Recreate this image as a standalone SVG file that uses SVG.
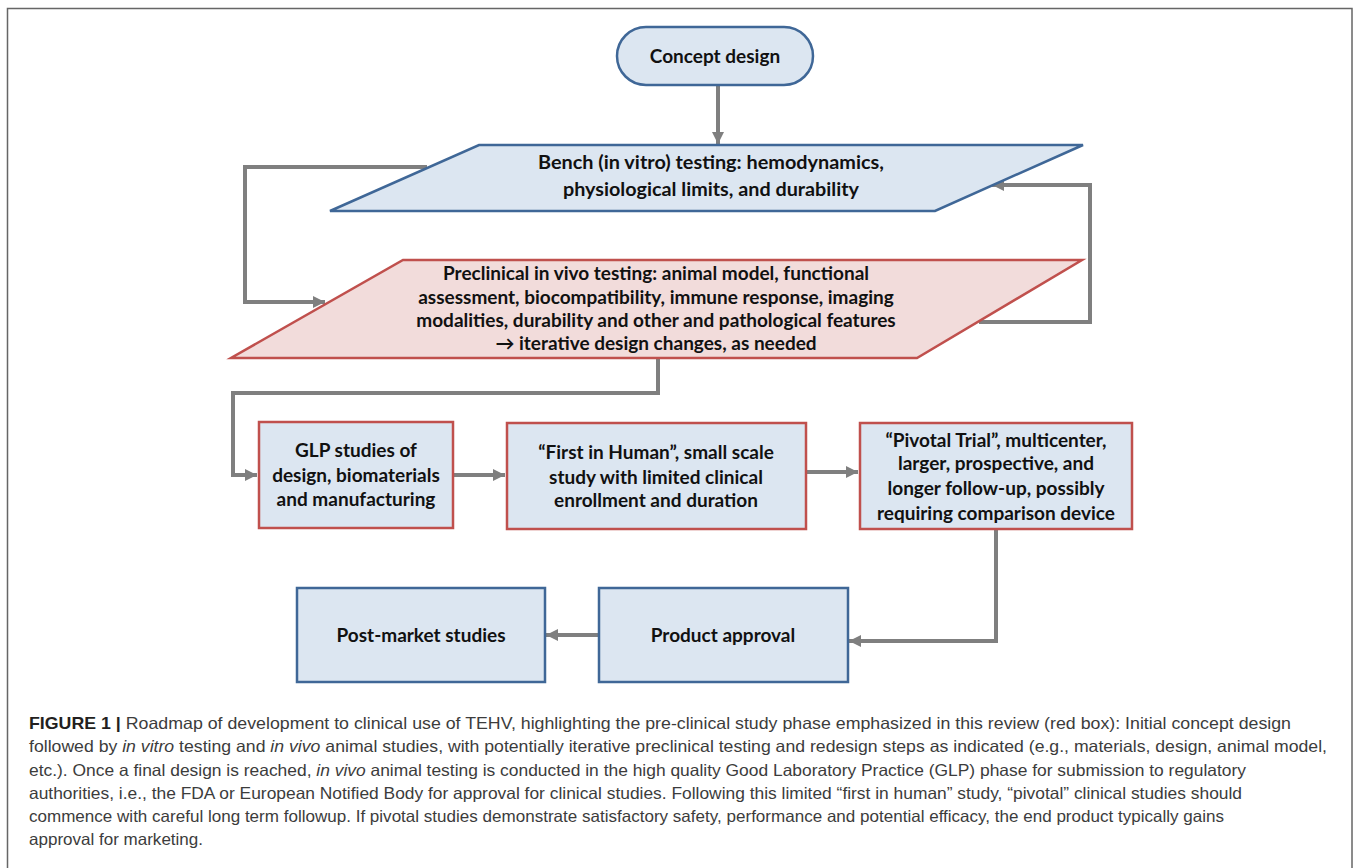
<svg xmlns="http://www.w3.org/2000/svg" width="1360" height="868" viewBox="0 0 1360 868">
<defs>
<marker id="arr" markerUnits="userSpaceOnUse" markerWidth="14" markerHeight="14" refX="12" refY="6" orient="auto">
<path d="M0,0 L12,6 L0,12 z" fill="#7f7f7f"/>
</marker>
<style>
.blue{fill:#dce6f1;stroke:#3f6797;stroke-width:2.5}
.red{fill:#dce6f1;stroke:#c0504d;stroke-width:2.5}
.pink{fill:#f2dcdb;stroke:#c0504d;stroke-width:2.5}
.t{font-family:Lato,"Liberation Sans",sans-serif;font-weight:bold;font-size:19px;fill:#111;text-anchor:middle}
.c{fill:none;stroke:#7f7f7f;stroke-width:4}
.cap{font-family:"Liberation Sans",Arial,sans-serif;font-size:16.5px;fill:#3c3c3c}
.capb{font-weight:bold;fill:#231f20}
</style>
</defs>
<rect width="1360" height="868" fill="#fff"/>
<rect x="7.5" y="8.5" width="1344.5" height="880" fill="none" stroke="#666" stroke-width="1.5"/>

<g id="connectors">
<path class="c" d="M718,86 V144" marker-end="url(#arr)"/>
<path class="c" d="M427,167 H245 V302 H325" marker-end="url(#arr)"/>
<path class="c" d="M979,322 H1090 V185 H992" marker-end="url(#arr)"/>
<path class="c" d="M658,359 V393 H233 V475 H257" marker-end="url(#arr)"/>
<path class="c" d="M454,475 H505" marker-end="url(#arr)"/>
<path class="c" d="M807,472 H858" marker-end="url(#arr)"/>
<path class="c" d="M996,530 V641 H849" marker-end="url(#arr)"/>
<path class="c" d="M598,635 H546" marker-end="url(#arr)"/>
</g>

<g id="concept">
<rect class="blue" x="617" y="27" width="196" height="58" rx="29"/>
<text class="t" x="715" y="63">Concept design</text>
</g>

<g id="bench">
<polygon class="blue" points="479,145 1083,145 935,211 330,211"/>
<text class="t" x="711" y="169" textLength="346" lengthAdjust="spacingAndGlyphs">Bench (in vitro) testing: hemodynamics,</text>
<text class="t" x="711" y="196" textLength="296" lengthAdjust="spacingAndGlyphs">physiological limits, and durability</text>
</g>

<g id="preclinical">
<polygon class="pink" points="403,260 1082,260 917,358 231,358"/>
<text class="t" x="656" y="280">Preclinical in vivo testing: animal model, functional</text>
<text class="t" x="656" y="304">assessment, biocompatibility, immune response, imaging</text>
<text class="t" x="656" y="327">modalities, durability and other and pathological features</text>
<text class="t" x="656" y="350">→ iterative design changes, as needed</text>
</g>

<g id="glp">
<rect class="red" x="259" y="422" width="194" height="106"/>
<text class="t" x="356" y="457">GLP studies of</text>
<text class="t" x="356" y="482">design, biomaterials</text>
<text class="t" x="356" y="506">and manufacturing</text>
</g>

<g id="fih">
<rect class="red" x="507" y="423" width="299" height="106"/>
<text class="t" x="656" y="459">“First in Human”, small scale</text>
<text class="t" x="656" y="484">study with limited clinical</text>
<text class="t" x="656" y="507">enrollment and duration</text>
</g>

<g id="pivotal">
<rect class="red" x="860" y="423" width="272" height="106"/>
<text class="t" x="996" y="447">“Pivotal Trial”, multicenter,</text>
<text class="t" x="996" y="470">larger, prospective, and</text>
<text class="t" x="996" y="495">longer follow-up, possibly</text>
<text class="t" x="996" y="520">requiring comparison device</text>
</g>

<g id="approval">
<rect class="blue" x="599" y="588" width="249" height="94"/>
<text class="t" x="723" y="642">Product approval</text>
</g>

<g id="postmarket">
<rect class="blue" x="297" y="588" width="248" height="94"/>
<text class="t" x="421" y="642">Post-market studies</text>
</g>

<g id="caption">
<text class="cap" x="29" y="729" textLength="1262" lengthAdjust="spacingAndGlyphs"><tspan class="capb">FIGURE 1 |</tspan> Roadmap of development to clinical use of TEHV, highlighting the pre-clinical study phase emphasized in this review (red box): Initial concept design</text>
<text class="cap" x="29" y="752" textLength="1298" lengthAdjust="spacingAndGlyphs">followed by <tspan font-style="italic">in vitro</tspan> testing and <tspan font-style="italic">in vivo</tspan> animal studies, with potentially iterative preclinical testing and redesign steps as indicated (e.g., materials, design, animal model,</text>
<text class="cap" x="29" y="776" textLength="1217" lengthAdjust="spacingAndGlyphs">etc.). Once a final design is reached, <tspan font-style="italic">in vivo</tspan> animal testing is conducted in the high quality Good Laboratory Practice (GLP) phase for submission to regulatory</text>
<text class="cap" x="29" y="799" textLength="1213" lengthAdjust="spacingAndGlyphs">authorities, i.e., the FDA or European Notified Body for approval for clinical studies. Following this limited “first in human” study, “pivotal” clinical studies should</text>
<text class="cap" x="29" y="822" textLength="1195" lengthAdjust="spacingAndGlyphs">commence with careful long term followup. If pivotal studies demonstrate satisfactory safety, performance and potential efficacy, the end product typically gains</text>
<text class="cap" x="29" y="845" textLength="174" lengthAdjust="spacingAndGlyphs">approval for marketing.</text>
</g>
</svg>
